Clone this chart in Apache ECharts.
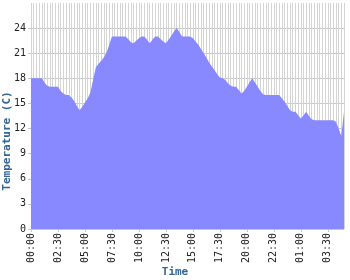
<!DOCTYPE html>
<html><head><meta charset="utf-8">
<script src="https://cdn.jsdelivr.net/npm/echarts@6/dist/echarts.min.js"></script>
<style>html,body{margin:0;padding:0;background:#fff}#c{width:350px;height:280px}</style>
</head><body><div id="c"></div>
<script>
var categories = [
"00:00","00:15","00:30","00:45","01:00","01:15","01:30","01:45","02:00","02:15","02:30","02:45",
"03:00","03:15","03:30","03:45","04:00","04:15","04:30","04:45","05:00","05:15","05:30","05:45",
"06:00","06:15","06:30","06:45","07:00","07:15","07:30","07:45","08:00","08:15","08:30","08:45",
"09:00","09:15","09:30","09:45","10:00","10:15","10:30","10:45","11:00","11:15","11:30","11:45",
"12:00","12:15","12:30","12:45","13:00","13:15","13:30","13:45","14:00","14:15","14:30","14:45",
"15:00","15:15","15:30","15:45","16:00","16:15","16:30","16:45","17:00","17:15","17:30","17:45",
"18:00","18:15","18:30","18:45","19:00","19:15","19:30","19:45","20:00","20:15","20:30","20:45",
"21:00","21:15","21:30","21:45","22:00","22:15","22:30","22:45","23:00","23:15","23:30","23:45",
"00:00","00:15","00:30","00:45","01:00","01:15","01:30","01:45","02:00","02:15","02:30","02:45",
"03:00","03:15","03:30","03:45","04:00","04:15","04:30","04:45","05:00"];
var temperature = [
18,18,18,18,18,17.5,17.1,17,17,17,17,16.5,
16.2,16,16,15.7,15.3,14.7,14.2,14.6,15.1,15.6,16.3,17.8,
19.3,19.7,20.1,20.5,21.1,22,23,23,23,23,23,23,
22.7,22.3,22.2,22.5,22.8,23,23,22.6,22.2,22.6,23,23,
22.7,22.4,22.2,22.6,23.1,23.6,24,23.5,23,23,23,23,
22.8,22.4,22,21.5,21,20.5,19.9,19.4,19,18.5,18.1,18,
17.8,17.4,17.1,17,17,16.6,16.2,16.5,17,17.5,18,17.5,
17,16.5,16.1,16,16,16,16,16,16,15.6,15.2,14.7,
14.2,14,14,13.6,13.2,13.6,14,13.5,13.1,13,13,13,
13,13,13,13,13,12.8,12,11.1,14];
var yMin = 0, yMax = 27, yStep = 3;
var yTitle = "Temperature (C)";
var xTitle = "Time";

var chart = echarts.init(document.getElementById('c'), null, {renderer:'canvas'});
chart.setOption({
  animation:false,
  backgroundColor:'#fff',
  grid:{left:31, right:6, top:3, bottom:51, containLabel:false},
  xAxis:{
    type:'category', data:categories, boundaryGap:false,
    axisLine:{show:false},
    axisTick:{show:true, interval:9, length:3, lineStyle:{color:'#c8c8c8'}},
    axisLabel:{interval:9, rotate:90, margin:4, fontFamily:'DejaVu Sans Mono', fontSize:10, color:'#222'},
    splitLine:{show:true, interval:0, lineStyle:{color:'#d4d4d4', width:1}}
  },
  yAxis:{
    type:'value', min:yMin, max:yMax, interval:yStep,
    axisLine:{show:false},
    axisTick:{show:true, length:3, lineStyle:{color:'#c8c8c8'}},
    axisLabel:{showMaxLabel:false, margin:5, fontFamily:'DejaVu Sans Mono', fontSize:10, color:'#222'},
    splitLine:{show:true, showMaxLine:false, lineStyle:{color:'#c8c8c8', width:1}}
  },
  graphic:[
    {type:'text', x:7, y:141, rotation:Math.PI/2,
     style:{text:yTitle, fill:'#336699', font:'bold 11px "DejaVu Sans Mono"', textAlign:'center', textVerticalAlign:'middle'}},
    {type:'text', x:175, y:272,
     style:{text:xTitle, fill:'#336699', font:'bold 11px "DejaVu Sans Mono"', textAlign:'center', textVerticalAlign:'middle'}}
  ],
  series:[{
    type:'line', data:temperature, symbol:'none',
    lineStyle:{width:0, color:'#8888ff'},
    areaStyle:{color:'#8888ff', opacity:1},
    itemStyle:{color:'#8888ff'}
  }]
});
</script></body></html>
